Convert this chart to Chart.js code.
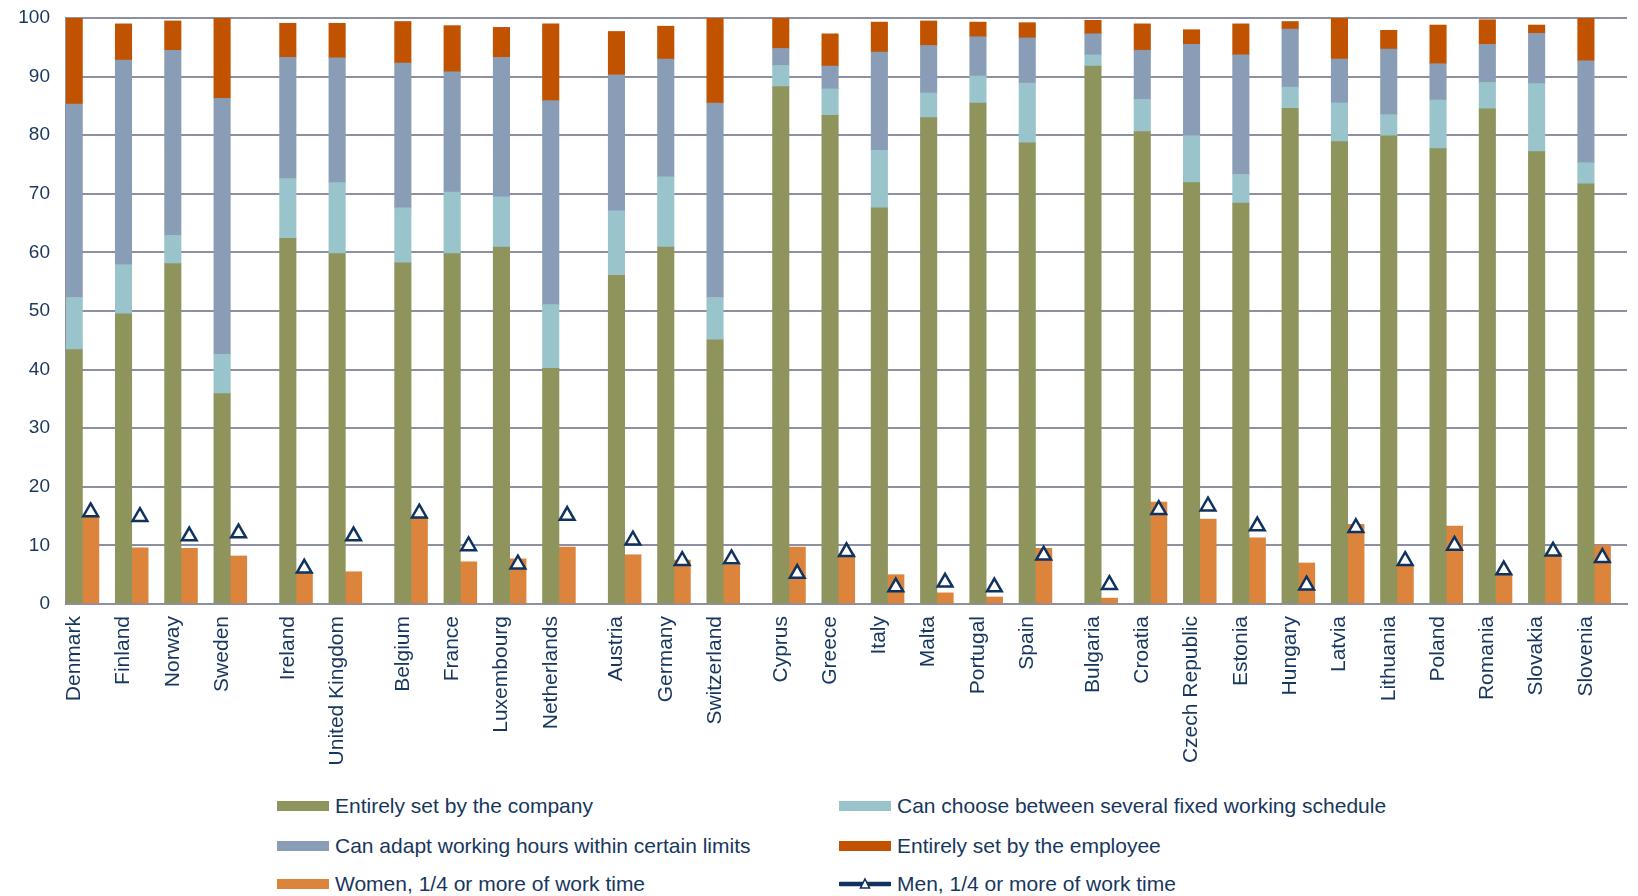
<!DOCTYPE html>
<html>
<head>
<meta charset="utf-8">
<script src="https://cdn.jsdelivr.net/npm/chart.js@4.4.1/dist/chart.umd.min.js"></script>
<style>
  body { margin: 0; background: #fff; font-family: "Liberation Sans", Arial, sans-serif; }
  #wrap { position: relative; width: 1638px; height: 896px; }
  #chartBox { position: absolute; left: 0; top: 0; width: 1638px; height: 790px; }
  .item { position: absolute; height: 26px; display: flex; align-items: center;
          font-size: 21px; color: #17375e; white-space: nowrap; }
  .swatch { width: 52px; height: 10px; margin-right: 6px; }
  .item svg { margin-right: 6px; }
</style>
</head>
<body>
<div id="wrap">
  <div id="chartBox"><canvas id="flexChart" width="1638" height="790"></canvas></div>
  <div id="legend"></div>
</div>
<script>
// Negara per kelompok (ada jarak kecil antar kelompok)
const groups = [
    ['Denmark', 'Finland', 'Norway', 'Sweden'],
    ['Ireland', 'United Kingdom'],
    ['Belgium', 'France', 'Luxembourg', 'Netherlands'],
    ['Austria', 'Germany', 'Switzerland'],
    ['Cyprus', 'Greece', 'Italy', 'Malta', 'Portugal', 'Spain'],
    ['Bulgaria', 'Croatia', 'Czech Republic', 'Estonia', 'Hungary', 'Latvia', 'Lithuania', 'Poland', 'Romania', 'Slovakia', 'Slovenia']
];

const seriesLabels = [
    'Entirely set by the company',
    'Can choose between several fixed working schedule',
    'Can adapt working hours within certain limits',
    'Entirely set by the employee',
    'Women, 1/4 or more of work time',
    'Men, 1/4 or more of work time'
];

const company  = [43.4, 49.5, 58.1, 35.9, 62.4, 59.8, 58.2, 59.8, 60.9, 40.2, 56.1, 60.9, 45.1, 88.3, 83.4, 67.6, 83.0, 85.5, 78.7, 91.8, 80.6, 71.9, 68.4, 84.6, 78.9, 79.9, 77.7, 84.5, 77.2, 71.7];
const choose   = [8.9, 8.4, 4.8, 6.7, 10.2, 12.1, 9.4, 10.5, 8.6, 10.9, 11.0, 12.0, 7.2, 3.6, 4.5, 9.8, 4.2, 4.6, 10.2, 1.9, 5.5, 8.0, 4.9, 3.6, 6.6, 3.6, 8.3, 4.5, 11.6, 3.6];
const adapt    = [33.0, 34.9, 31.6, 43.7, 20.7, 21.3, 24.7, 20.5, 23.8, 34.8, 23.2, 20.1, 33.2, 2.9, 3.9, 16.8, 8.1, 6.7, 7.7, 3.6, 8.4, 15.6, 20.4, 9.9, 7.5, 11.2, 6.2, 6.5, 8.6, 17.4];
const employee = [14.7, 6.2, 5.0, 13.7, 5.8, 5.9, 7.1, 7.9, 5.1, 13.1, 7.4, 5.6, 14.5, 5.2, 5.5, 5.1, 4.2, 2.5, 2.6, 2.3, 4.5, 2.5, 5.3, 1.3, 7.0, 3.2, 6.6, 4.2, 1.4, 7.3];
const women    = [14.8, 9.6, 9.5, 8.2, 5.4, 5.5, 14.7, 7.2, 7.7, 9.7, 8.4, 7.5, 6.7, 9.7, 8.5, 5.0, 1.9, 1.2, 9.5, 1.0, 17.4, 14.5, 11.3, 7.0, 13.6, 6.7, 13.3, 5.1, 8.7, 10.0];
const men      = [15.7, 14.9, 11.6, 12.1, 6.1, 11.6, 15.5, 9.9, 6.8, 15.1, 10.9, 7.4, 7.7, 5.2, 8.9, 2.9, 3.7, 2.9, 8.3, 3.3, 16.1, 16.7, 13.3, 3.2, 13.0, 7.4, 10.0, 5.8, 9.0, 7.9];

const colors = ['#8f945c', '#9ac4cc', '#8a9db6', '#c05200', '#dc843c', '#10325e'];
const textColor = '#17375e';
const gridColor = '#8c90a0';

// Posisi slot: tiap negara 3 slot (batang tumpuk, batang wanita, jarak), +1 slot antar kelompok
const countries = [];
const slots = [];
let pos = 0;
groups.forEach((g, gi) => {
    if (gi > 0) pos += 1;
    g.forEach(name => {
        countries.push(name);
        slots.push(pos);
        pos += 3;
    });
});
const xMax = pos;

function stackPoints(values) {
    return values.map((v, i) => ({ x: slots[i] + 0.5, y: v }));
}
function sidePoints(values) {
    return values.map((v, i) => ({ x: slots[i] + 1.5, y: v }));
}

const barCommon = {
    type: 'bar',
    grouped: false,
    categoryPercentage: 1,
    barPercentage: 1,
    borderWidth: 0,
    order: 1
};

const datasets = [
    { ...barCommon, label: seriesLabels[0], data: stackPoints(company),  backgroundColor: colors[0], stack: 'mode' },
    { ...barCommon, label: seriesLabels[1], data: stackPoints(choose),   backgroundColor: colors[1], stack: 'mode' },
    { ...barCommon, label: seriesLabels[2], data: stackPoints(adapt),    backgroundColor: colors[2], stack: 'mode' },
    { ...barCommon, label: seriesLabels[3], data: stackPoints(employee), backgroundColor: colors[3], stack: 'mode' },
    { ...barCommon, label: seriesLabels[4], data: sidePoints(women),     backgroundColor: colors[4], stack: 'women' },
    {
        type: 'line',
        label: seriesLabels[5],
        data: sidePoints(men),
        showLine: false,
        pointStyle: 'triangle',
        pointRadius: 8.5,
        pointHoverRadius: 8.5,
        pointBorderWidth: 2.5,
        pointBorderColor: colors[5],
        pointBackgroundColor: '#ffffff',
        order: 0
    }
];

const flexChart = new Chart(document.getElementById('flexChart'), {
    type: 'bar',
    data: { datasets: datasets },
    options: {
        responsive: false,
        animation: false,
        layout: { padding: { top: 18, right: 1, left: 0, bottom: 0 } },
        plugins: {
            legend: { display: false },
            tooltip: { enabled: false }
        },
        scales: {
            x: {
                type: 'linear',
                min: 0,
                max: xMax,
                offset: false,
                stacked: false,
                grid: { display: false, drawTicks: false },
                border: { display: true, color: gridColor, width: 2 },
                afterBuildTicks: function(axis) {
                    axis.ticks = slots.map(s => ({ value: s + 0.5 }));
                },
                afterFit: function(axis) {
                    axis.height = 186;
                },
                ticks: {
                    autoSkip: false,
                    maxRotation: 90,
                    minRotation: 90,
                    padding: 12,
                    color: textColor,
                    font: { family: '"Liberation Sans", Arial, sans-serif', size: 21 },
                    callback: function(value, index) {
                        return countries[index];
                    }
                }
            },
            y: {
                stacked: true,
                min: 0,
                max: 100,
                grid: { color: gridColor, lineWidth: 2, drawTicks: false },
                border: { display: true, color: gridColor, width: 2 },
                afterFit: function(axis) {
                    axis.width = 66;
                    axis.paddingTop = 0;
                    axis.paddingBottom = 0;
                },
                ticks: {
                    stepSize: 10,
                    padding: 16,
                    color: textColor,
                    font: { family: '"Liberation Sans", Arial, sans-serif', size: 19 }
                }
            }
        }
    }
});

// Legenda HTML dua kolom
const legendPlaces = [
    { left: 277, top: 793 }, { left: 839, top: 793 },
    { left: 277, top: 833 }, { left: 839, top: 833 },
    { left: 277, top: 871 }, { left: 839, top: 871 }
];
const legendDiv = document.getElementById('legend');
flexChart.data.datasets.forEach((ds, i) => {
    const item = document.createElement('div');
    item.className = 'item';
    item.style.left = legendPlaces[i].left + 'px';
    item.style.top = legendPlaces[i].top + 'px';
    if (ds.type === 'line') {
        item.innerHTML = '<svg width="52" height="16" viewBox="0 0 52 16">' +
            '<line x1="1" y1="8" x2="51" y2="8" stroke="' + colors[5] + '" stroke-width="4.5" stroke-linecap="round"/>' +
            '<polygon points="26,3 30.5,12 21.5,12" fill="#fff" stroke="' + colors[5] + '" stroke-width="1.6"/></svg>';
    } else {
        item.innerHTML = '<span class="swatch" style="background:' + ds.backgroundColor + '"></span>';
    }
    const txt = document.createElement('span');
    txt.textContent = ds.label;
    item.appendChild(txt);
    legendDiv.appendChild(item);
});
</script>
</body>
</html>
